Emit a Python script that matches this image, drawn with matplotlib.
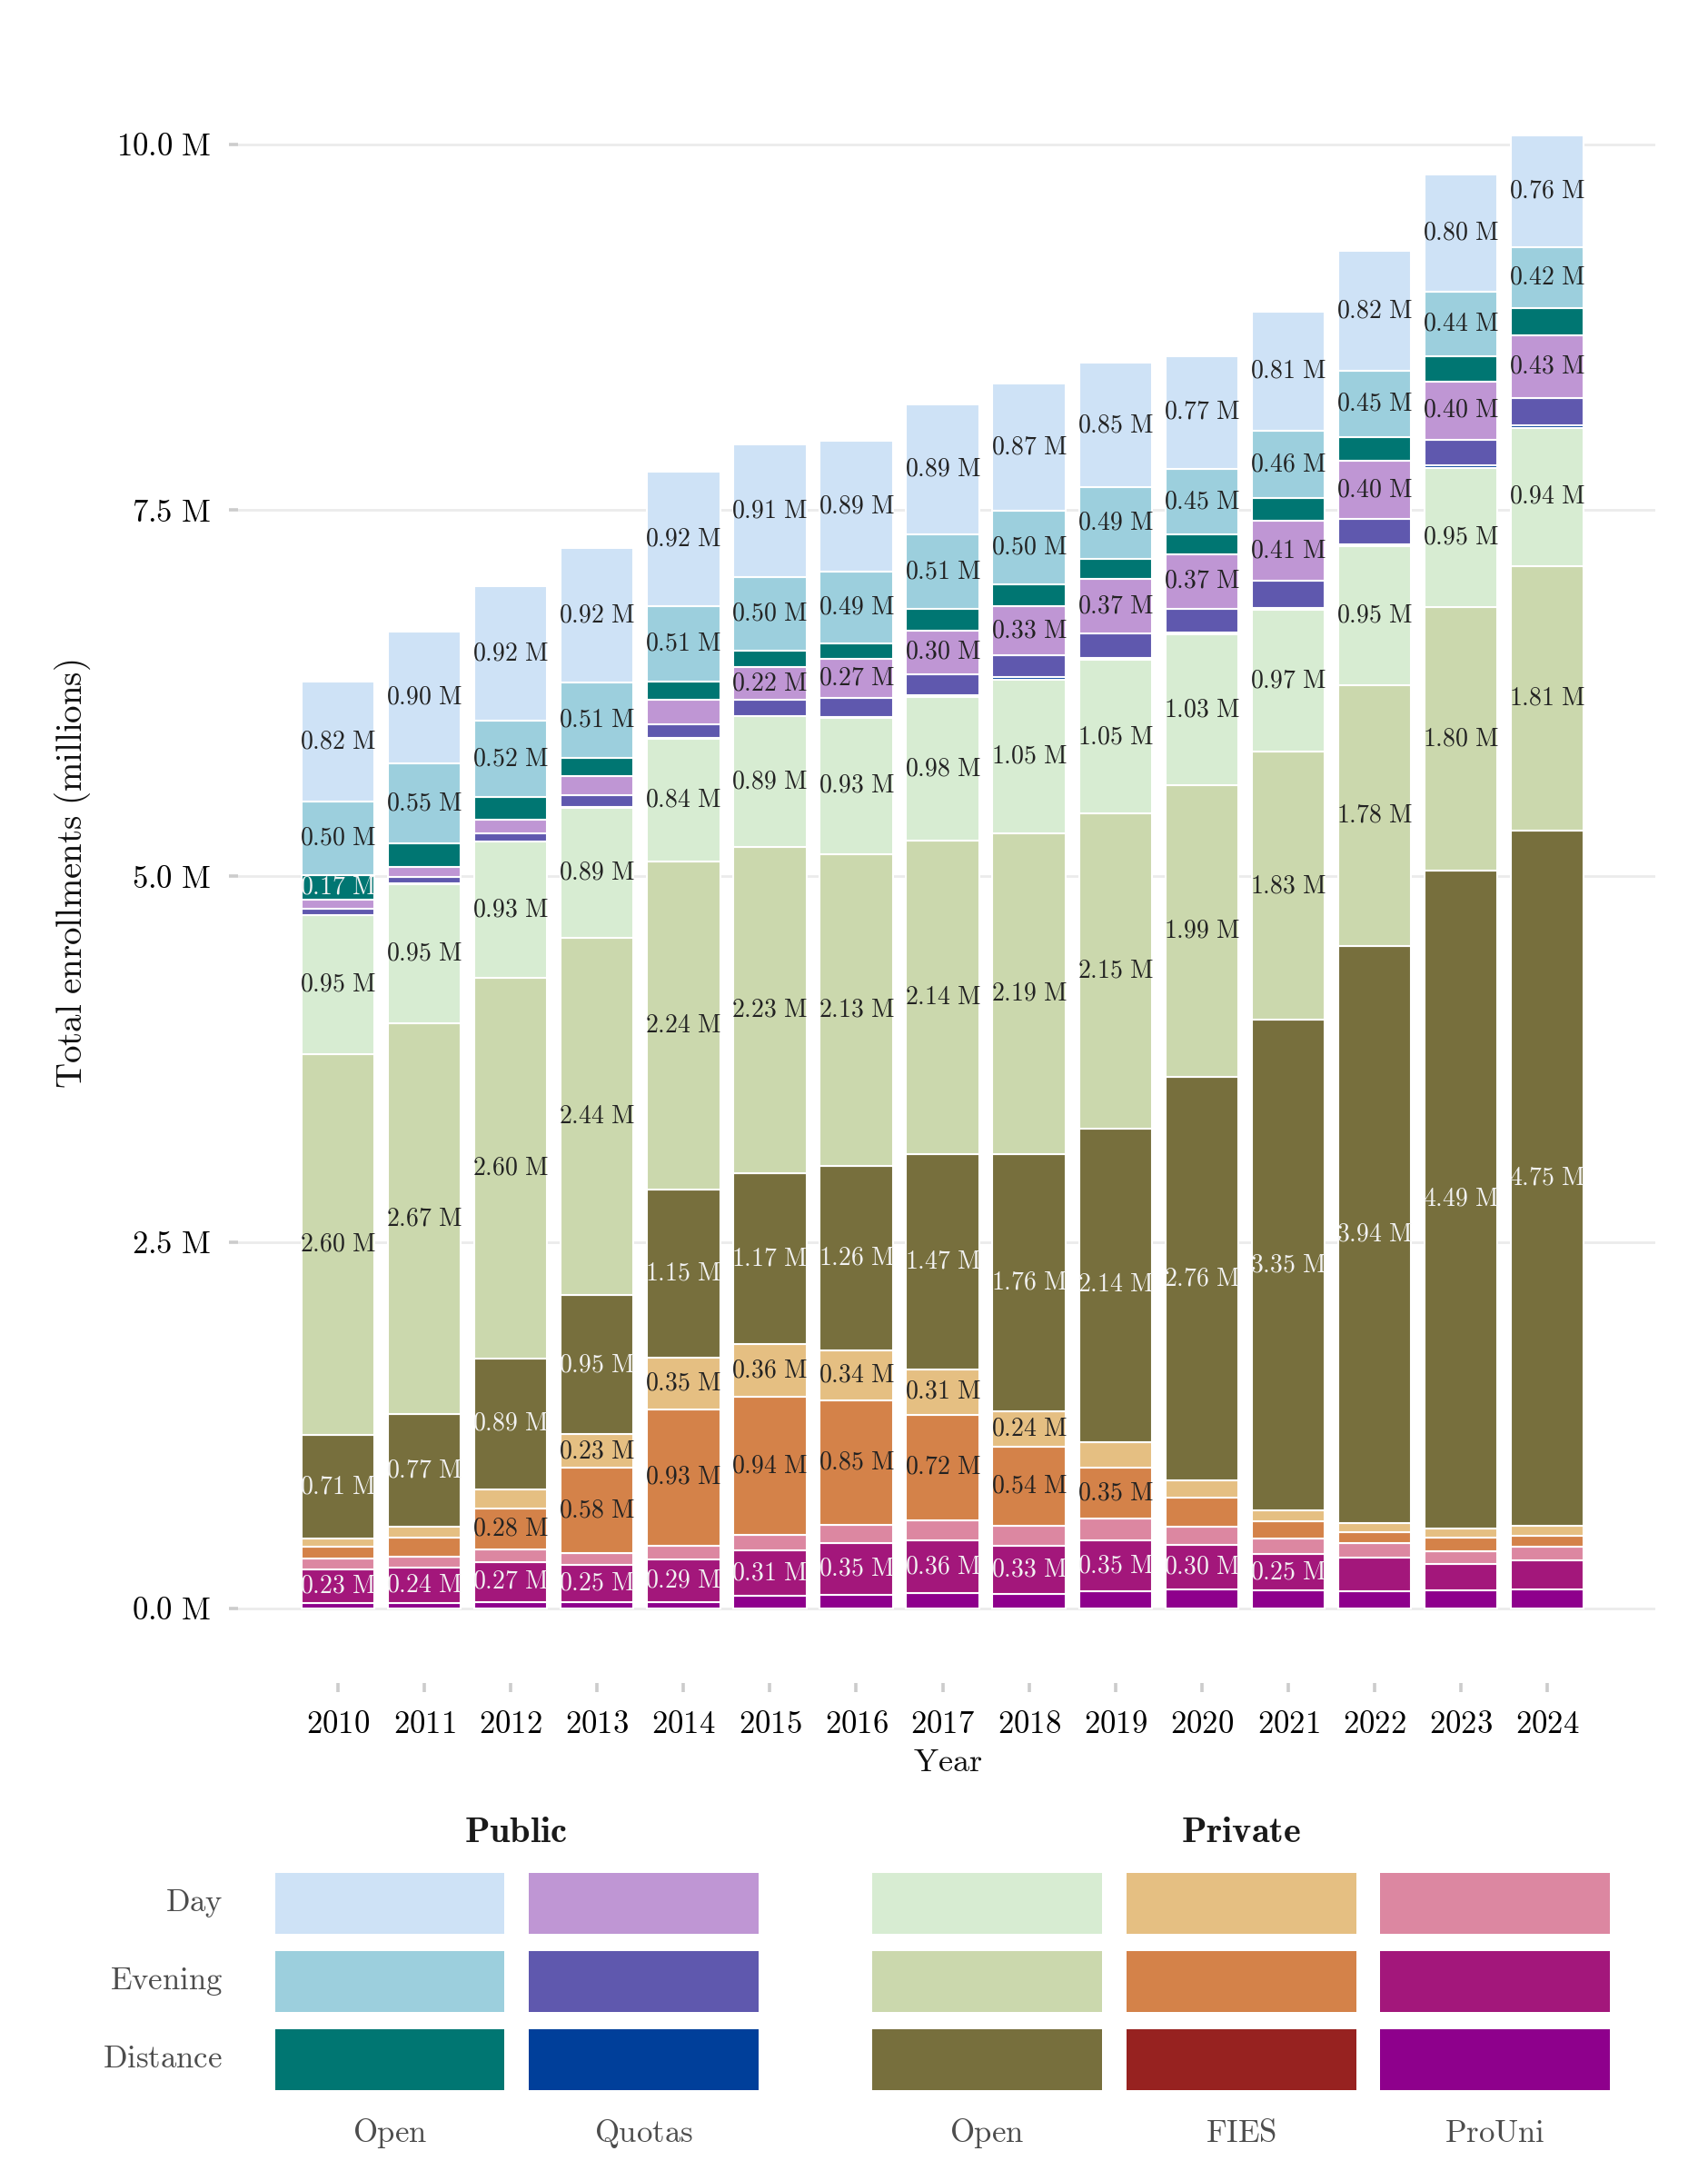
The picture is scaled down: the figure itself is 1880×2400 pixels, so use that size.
import matplotlib
matplotlib.use("Agg")
import matplotlib.pyplot as plt
from matplotlib.patches import Rectangle
import numpy as np

plt.rcParams['mathtext.fontset'] = 'cm'
plt.rcParams['font.family'] = ['cmr10', 'DejaVu Serif']

# ---------------- data (millions of enrollments) ----------------
years = list(range(2010, 2025))

# Private sector
prouni_distance = [0.035, 0.039, 0.045, 0.045, 0.045, 0.085, 0.095, 0.105, 0.099, 0.116, 0.132, 0.120, 0.118, 0.122, 0.128]
prouni_evening  = [0.23, 0.24, 0.27, 0.25, 0.29, 0.31, 0.35, 0.36, 0.33, 0.35, 0.30, 0.25, 0.228, 0.180, 0.198]
prouni_day      = [0.074, 0.076, 0.085, 0.083, 0.095, 0.108, 0.128, 0.138, 0.136, 0.147, 0.126, 0.107, 0.097, 0.089, 0.095]
fies_distance   = [0.0] * 15
fies_evening    = [0.080, 0.126, 0.28, 0.58, 0.93, 0.94, 0.85, 0.72, 0.54, 0.35, 0.198, 0.116, 0.080, 0.095, 0.076]
fies_day        = [0.055, 0.075, 0.135, 0.23, 0.35, 0.36, 0.34, 0.31, 0.24, 0.174, 0.116, 0.076, 0.060, 0.062, 0.064]
priv_open_distance = [0.71, 0.77, 0.89, 0.95, 1.15, 1.17, 1.26, 1.47, 1.76, 2.14, 2.76, 3.35, 3.94, 4.49, 4.75]
priv_open_evening  = [2.60, 2.67, 2.60, 2.44, 2.24, 2.23, 2.13, 2.14, 2.19, 2.15, 1.99, 1.83, 1.78, 1.80, 1.81]
priv_open_day      = [0.95, 0.95, 0.93, 0.89, 0.84, 0.89, 0.93, 0.98, 1.05, 1.05, 1.03, 0.97, 0.95, 0.95, 0.94]

# Public sector
quotas_distance = [0.003, 0.003, 0.003, 0.003, 0.004, 0.004, 0.004, 0.015, 0.015, 0.013, 0.012, 0.015, 0.012, 0.018, 0.020]
quotas_evening  = [0.041, 0.045, 0.056, 0.080, 0.095, 0.110, 0.128, 0.142, 0.152, 0.170, 0.165, 0.184, 0.175, 0.175, 0.184]
quotas_day      = [0.060, 0.070, 0.095, 0.132, 0.168, 0.22, 0.27, 0.30, 0.33, 0.37, 0.37, 0.41, 0.40, 0.40, 0.43]
pub_open_distance = [0.17, 0.160, 0.153, 0.128, 0.125, 0.115, 0.107, 0.144, 0.152, 0.136, 0.134, 0.156, 0.162, 0.173, 0.184]
pub_open_evening  = [0.50, 0.55, 0.52, 0.51, 0.51, 0.50, 0.49, 0.51, 0.50, 0.49, 0.45, 0.46, 0.45, 0.44, 0.42]
pub_open_day      = [0.82, 0.90, 0.92, 0.92, 0.92, 0.91, 0.89, 0.89, 0.87, 0.85, 0.77, 0.81, 0.82, 0.80, 0.76]

y_ticks = [0.0, 2.5, 5.0, 7.5, 10.0]

# ---------------- styles ----------------
C = {
    'pub_open_day': '#cee2f6', 'pub_open_evening': '#9ccfdd', 'pub_open_distance': '#007672',
    'quotas_day': '#bf96d4', 'quotas_evening': '#5f58ae', 'quotas_distance': '#003f9a',
    'priv_open_day': '#d7ecd2', 'priv_open_evening': '#cbd8ad', 'priv_open_distance': '#776f3d',
    'fies_day': '#e5bf82', 'fies_evening': '#d48249', 'fies_distance': '#972220',
    'prouni_day': '#dc87a1', 'prouni_evening': '#a3177b', 'prouni_distance': '#8e008c',
}
DARK = '#222222'
LIGHT = '#f2f2f2'

stack = [
    (prouni_distance, 'prouni_distance', LIGHT),
    (prouni_evening, 'prouni_evening', LIGHT),
    (prouni_day, 'prouni_day', DARK),
    (fies_distance, 'fies_distance', LIGHT),
    (fies_evening, 'fies_evening', DARK),
    (fies_day, 'fies_day', DARK),
    (priv_open_distance, 'priv_open_distance', LIGHT),
    (priv_open_evening, 'priv_open_evening', DARK),
    (priv_open_day, 'priv_open_day', DARK),
    (quotas_distance, 'quotas_distance', LIGHT),
    (quotas_evening, 'quotas_evening', LIGHT),
    (quotas_day, 'quotas_day', DARK),
    (pub_open_distance, 'pub_open_distance', LIGHT),
    (pub_open_evening, 'pub_open_evening', DARK),
    (pub_open_day, 'pub_open_day', DARK),
]

W, H, DPI = 1880, 2400, 200
fig = plt.figure(figsize=(W / DPI, H / DPI), dpi=DPI)

ax_l, ax_r, ax_b, ax_t = 262, 1822, 1852, 62
ax = fig.add_axes([ax_l / W, 1 - ax_b / H, (ax_r - ax_l) / W, (ax_b - ax_t) / H])

x = np.array(years, dtype=float)
totals = np.sum([np.array(s[0]) for s in stack], axis=0)
bottom = np.zeros(len(years))
for vals, key, tcol in stack:
    v = np.array(vals)
    ax.bar(x, v, bottom=bottom, width=0.845, color=C[key], edgecolor='white',
           linewidth=0.75, zorder=3)
    for xi, vi, bi, ti in zip(x, v, bottom, totals):
        if vi / ti >= 0.025:
            ax.text(xi, bi + vi / 2, r"$%.2f\ \mathrm{M}$" % vi, ha='center', va='center',
                    fontsize=10, color=tcol, zorder=4)
    bottom += v

ax.set_xlim(2008.843, 2025.25)
ax.set_ylim(-0.51, 10.6)
ax.set_yticks(y_ticks)
ax.set_yticklabels([r"$%.1f\ \mathrm{M}$" % t for t in y_ticks])
ax.set_xticks(years)
ax.set_xticklabels([r"$\mathrm{%d}$" % yv for yv in years])
ax.tick_params(axis='both', which='major', length=3.6, width=1.3, color='#cccccc',
               labelsize=12.5, labelcolor='black', pad=7.2, direction='out')
for sp in ax.spines.values():
    sp.set_visible(False)
ax.grid(axis='y', color='#ebebeb', linewidth=1.0, zorder=0)
ax.set_axisbelow(True)

fig.text(80 / W, 1 - 962 / H, r"$\mathrm{Total\ enrollments\ (millions)}$", rotation=90,
         ha='center', va='center', fontsize=14, color='#111111')
fig.text(1043 / W, 1 - 1940 / H, r"$\mathrm{Year}$", ha='center', va='center',
         fontsize=13, color='#111111')

# ---------------- legend (pixel coordinates) ----------------
lg = fig.add_axes([0, 0, 1, 1], zorder=-1)
lg.set_xlim(0, W)
lg.set_ylim(H, 0)
lg.axis('off')

rows = [(2061, 2128), (2147, 2214), (2233, 2300)]
row_names = ['Day', 'Evening', 'Distance']
pub_cols = [(303, 555, 'Open', ['pub_open_day', 'pub_open_evening', 'pub_open_distance']),
            (582, 835, 'Quotas', ['quotas_day', 'quotas_evening', 'quotas_distance'])]
priv_cols = [(960, 1213, 'Open', ['priv_open_day', 'priv_open_evening', 'priv_open_distance']),
             (1240, 1493, 'FIES', ['fies_day', 'fies_evening', 'fies_distance']),
             (1519, 1772, 'ProUni', ['prouni_day', 'prouni_evening', 'prouni_distance'])]

for (x0, x1, name, keys) in pub_cols + priv_cols:
    for (y0, y1), k in zip(rows, keys):
        lg.add_patch(Rectangle((x0, y0), x1 - x0, y1 - y0, facecolor=C[k], edgecolor='none'))
    lg.text((x0 + x1) / 2, 2348, r"$\mathrm{%s}$" % name, ha='center', va='center',
            fontsize=12.5, color='#4d4d4d')
for (y0, y1), rn in zip(rows, row_names):
    lg.text(245, (y0 + y1) / 2, r"$\mathrm{%s}$" % rn, ha='right', va='center',
            fontsize=12.5, color='#4d4d4d')
lg.text(568, 2017, r"$\mathbf{Public}$", ha='center', va='center', fontsize=14.5, color='#1a1a1a')
lg.text(1366, 2017, r"$\mathbf{Private}$", ha='center', va='center', fontsize=14.5, color='#1a1a1a')

fig.savefig("out.png", dpi=DPI, facecolor='white')
